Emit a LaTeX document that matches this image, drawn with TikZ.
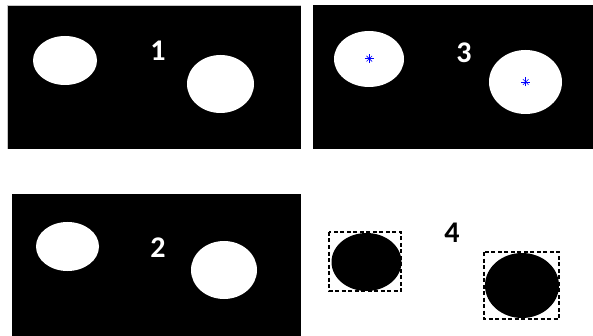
\documentclass[tikz,border=0pt]{standalone}
\usepackage{fontspec}
\setmainfont{Carlito}
\begin{document}
\begin{tikzpicture}[x=1pt,y=-1pt,
  panel/.style={fill=black,draw=none},
  blob/.style={fill=white,draw=none},
  darkblob/.style={fill=black,draw=none},
  numlabel/.style={font=\bfseries\fontsize{30}{30}\selectfont,inner sep=0pt},
  bbox/.style={draw=black,line width=1.3pt,dash pattern=on 4pt off 2.5pt},
  starmark/.style={draw=blue,line width=0.9pt}]
\useasboundingbox (0,0) rectangle (593,336);
\fill[white] (0,0) rectangle (593,336);
% panel 1
\fill[gray!45] (7,5) rectangle (301,149);
\fill[panel] (8,6) rectangle (301,149);
\fill[blob] (65,60.5) ellipse [x radius=32,y radius=24.5];
\fill[blob] (220.5,84) ellipse [x radius=33.5,y radius=29];
\node[numlabel,text=white] (l1) at (158,51) {1};
% panel 3
\fill[panel] (313,5) rectangle (593,149);
\fill[blob] (369,59) ellipse [x radius=35,y radius=28];
\fill[blob] (525.5,82) ellipse [x radius=36.5,y radius=32];
\coordinate (c1) at (369.3,58.7);
\coordinate (c2) at (525.7,82);
\foreach \c in {c1,c2}{
  \draw[starmark] ([xshift=-4.5pt]\c) -- ([xshift=4.5pt]\c);
  \draw[starmark] ([yshift=-4.5pt]\c) -- ([yshift=4.5pt]\c);
  \draw[starmark,line width=0.6pt] ([shift={(-2.8pt,-2.8pt)}]\c) -- ([shift={(2.8pt,2.8pt)}]\c);
  \draw[starmark,line width=0.6pt] ([shift={(-2.8pt,2.8pt)}]\c) -- ([shift={(2.8pt,-2.8pt)}]\c);
}
\node[numlabel,text=white] (l3) at (464,53) {3};
% panel 2
\fill[panel] (12,194) rectangle (301,336);
\fill[blob] (67.5,246.5) ellipse [x radius=31.5,y radius=24.5];
\fill[blob] (224,270) ellipse [x radius=33,y radius=29];
\node[numlabel,text=white] (l2) at (158,248) {2};
% panel 4
\fill[darkblob] (366.5,262) ellipse [x radius=35,y radius=29];
\draw[bbox] (329,232) rectangle (401,291);
\fill[darkblob] (522,285.5) ellipse [x radius=37,y radius=32.5];
\draw[bbox] (484,252) rectangle (559,319);
\node[numlabel,text=black] (l4) at (452,233) {4};
\end{tikzpicture}
\end{document}
